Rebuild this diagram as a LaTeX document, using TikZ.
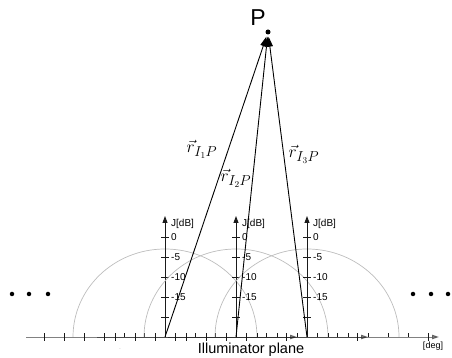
\documentclass[tikz,border=0pt]{standalone}
\usepackage{fontspec}
\setsansfont{Liberation Sans}
\usepackage{xcolor}
\definecolor{axisBlack}{HTML}{1A1A1A}
\definecolor{patternGray}{HTML}{BDBDBD}
\definecolor{strayGray}{HTML}{7F7F7F}
\usepackage{tikz}
\usetikzlibrary{
    arrows.meta,
    positioning,
    calc
}
\tikzset{
    % Local dB axis of each illuminator
    db axis/.style={
        -{Triangle[length=7pt, width=5pt]},
        line width=0.9pt,
        draw=axisBlack,
    },
    % Angle axis, one copy per illuminator (copies overlap)
    deg axis/.style={
        -{Triangle[length=7pt, width=4.5pt]},
        line width=0.9pt,
        draw=axisBlack,
        opacity=0.55,
    },
    % Tick marks
    tick mark/.style={
        line width=0.7pt,
        draw=axisBlack,
    },
    % Radiation pattern of an illuminator
    pattern arc/.style={
        draw=patternGray,
        line width=0.7pt,
    },
    % Ray from illuminator to the point P
    ray/.style={
        -{Triangle[length=10pt, width=6pt]},
        line width=0.9pt,
        draw=black,
        shorten >=2pt,
    },
    % Small sans labels
    tick label/.style={
        font=\sffamily\fontsize{10}{10}\selectfont,
        anchor=west,
        inner sep=0pt,
    },
    % Vector labels
    ray label/.style={
        font=\fontsize{19}{19}\selectfont,
        inner sep=0pt,
    },
    % Point P
    point dot/.style={
        circle,
        fill=black,
        inner sep=0pt,
        minimum size=5pt,
    },
    % Continuation dots
    more dot/.style={
        circle,
        fill=black,
        inner sep=0pt,
        minimum size=4.5pt,
    },
}

\begin{document}
\begin{tikzpicture}[x=1pt, y=1pt, font=\sffamily]
    \useasboundingbox (0,0) rectangle (452,358);

    % illuminators on the plane
    \coordinate (I1) at (165,21);
    \coordinate (I2) at (236,21);
    \coordinate (I3) at (307,21);

    \foreach \xx in {165,236,307} {
        % pattern
        \draw [pattern arc] (\xx+92,21) arc [start angle=0, end angle=180, x radius=92, y radius=88];
        % angle axis
        \draw [deg axis] (\xx-139,21) -- (\xx+132,21);
        \foreach \t in {-121,-101,-81,-61,121}
            \draw [tick mark] (\xx+\t,17) -- (\xx+\t,25);
        \foreach \t in {-41,-21,21,41,61,81,101}
            \draw [tick mark] (\xx+\t,21) -- (\xx+\t,25);
        % dB axis
        \draw [db axis] (\xx,21) -- (\xx,142);
        \foreach \k/\lab in {1/,2/-15,3/-10,4/-5,5/0} {
            \draw [tick mark] (\xx-4,21+20*\k) -- (\xx+4,21+20*\k);
            \node [tick label] at (\xx+6,21+20*\k) {\lab};
        }
        \node [tick label] at (\xx+6,134) {J[dB]};
    }

    % point P
    \node (P) [point dot] at (268,326) {};
    \node (Plabel) [font=\sffamily\fontsize{23}{23}\selectfont, inner sep=0pt] at (258,340) {P};

    \draw [ray] (I1) -- (P);
    \draw [ray] (I2) -- (P);
    \draw [ray] (I3) -- (P);

    \node (r1) [ray label] at (202,209) {$\vec{r}_{I_1P}$};
    \node (r2) [ray label] at (236,180) {$\vec{r}_{I_2P}$};
    \node (r3) [ray label] at (304,204) {$\vec{r}_{I_3P}$};

    % continuation dots
    \foreach \dx in {12,29,48,413,431,448}
        \node [more dot] at (\dx,64) {};

    \node (plane) [font=\sffamily\fontsize{14.5}{14.5}\selectfont, inner sep=0pt] at (251,8) {Illuminator plane};
    \node (deg) [font=\sffamily\fontsize{9}{9}\selectfont, inner sep=0pt] at (433,12) {[deg]};
    \node (stray) [font=\sffamily\tiny, text=strayGray, inner sep=0pt] at (120,9) {.};
\end{tikzpicture}
\end{document}
